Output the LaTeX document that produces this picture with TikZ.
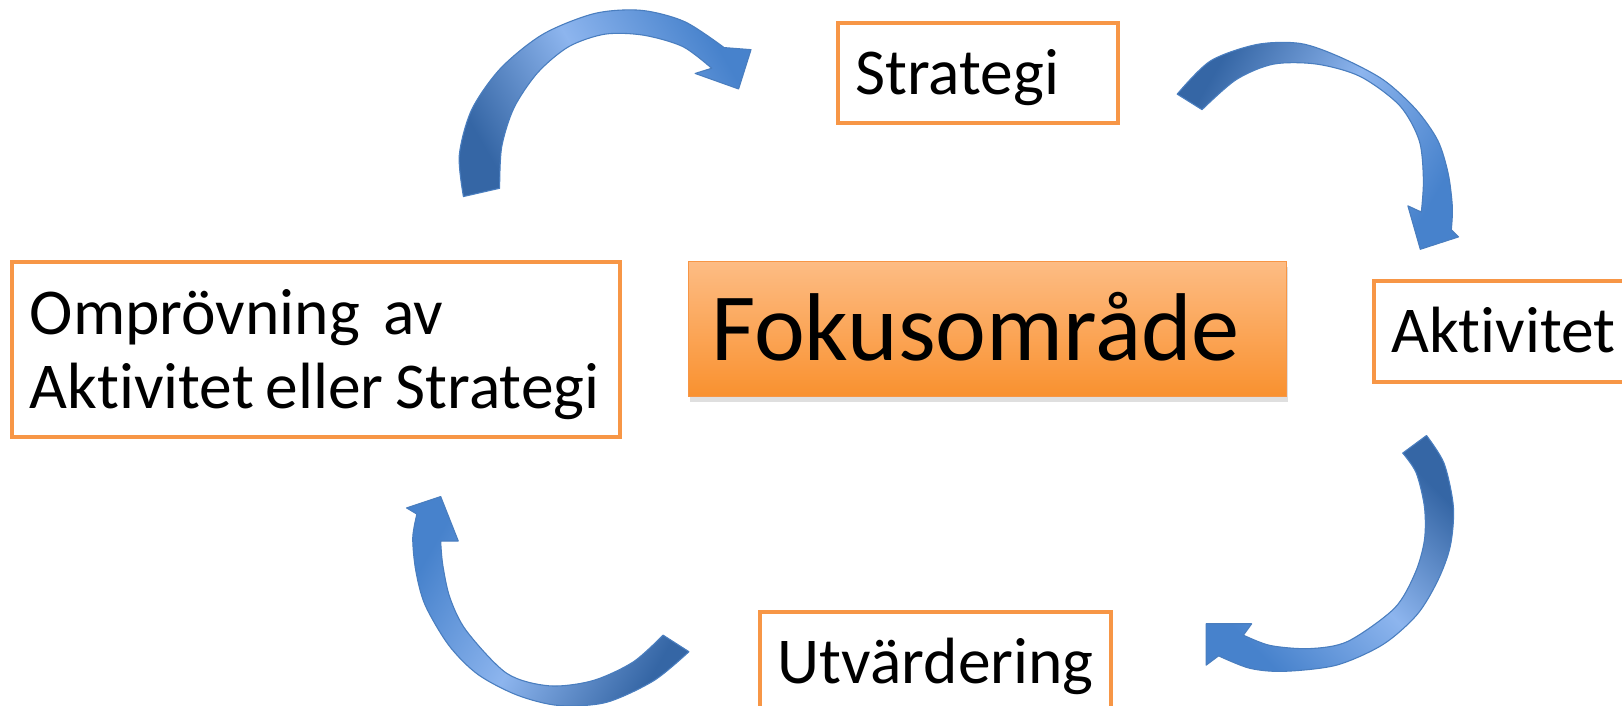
\documentclass[tikz,border=0pt]{standalone}
\usepackage{fontspec}
\setmainfont{Carlito}[Ligatures=CommonOff]
\usepackage{tikz}
\usetikzlibrary{shadows}

\definecolor{boxorange}{HTML}{F79646}
\definecolor{fokustop}{HTML}{FDBC84}
\definecolor{fokusbottom}{HTML}{F9912F}
\definecolor{arrowdark}{HTML}{3566A5}
\definecolor{arrowmid}{HTML}{4782CC}
\definecolor{arrowlight}{HTML}{8DB5EE}
\definecolor{arrowline}{HTML}{4A7EBF}

\newcommand{\wsp}{\hspace{0.18em}}

\begin{document}
\begin{tikzpicture}[
        x=0.02cm, y=-0.02cm,
        stepbox/.style = {
            rectangle, draw=boxorange, line width=2.2pt, fill=white,
            anchor=north west, align=left, inner xsep=0.34cm, inner ysep=0pt,
            font=\fontsize{36}{41}\selectfont, text height=1.07cm, text depth=0.25cm
        },
        bluearrow/.style = {
            draw=arrowline, line width=0.6pt, line join=round,
            left color=arrowdark, right color=arrowmid, middle color=arrowlight,
            shading angle=#1
        }
    ]
    \useasboundingbox (0,0) rectangle (1568,682);
    \clip (0,0) rectangle (1568,682);

    %nodes
    \node [stepbox, text width=4.74cm, minimum height=1.94cm] (strat) at (808,20) {Strategi};
    \node [stepbox, text width=4.52cm, minimum height=1.94cm] (akt) at (1326,270) {Aktivitet};
    \node [stepbox, text width=6.1cm, minimum height=1.94cm] (utv) at (733,590) {Utvärdering};
    \node [stepbox, text width=11.08cm, minimum height=3.4cm, text height=0.55cm, text depth=1.15cm] (ompr) at (10,251) {Omprövning\wsp\wsp av\\\mbox{Aktivitet\wsp eller\wsp Strategi}};
    \node [rectangle, draw=boxorange, line width=0.6pt, top color=fokustop, bottom color=fokusbottom,
        drop shadow={shadow xshift=1pt, shadow yshift=-3pt, opacity=0.25},
        anchor=north west, align=left, inner xsep=0.44cm, inner ysep=0pt, text width=10.68cm, minimum height=2.62cm,
        font=\fontsize{53}{63}\selectfont, text height=1.57cm, text depth=0.35cm] (fokus) at (665,252) {Fokusområde};

    % arrows
    \draw[bluearrow=120] plot[smooth] coordinates {(448,190) (444,150) (456,106) (484,66) (525,33) (575,13) (620,10) (662,21) (700,46)}
        -- (726,48) -- (714,86) -- (672,71)
        -- plot[smooth] coordinates {(688,66) (660,45) (622,34) (585,33) (550,45) (520,70) (497,104) (485,142) (483,182)} -- cycle;
    \draw[bluearrow=60] plot[smooth] coordinates {(1138,91) (1170,59) (1215,43) (1257,42) (1295,55) (1337,77) (1369,106) (1390,136) (1400,168) (1404,200) (1403,222)}
        -- (1410,229) -- (1373,241) -- (1361,199)
        -- plot[smooth] coordinates {(1374,205) (1376,174) (1372,136) (1353,102) (1315,74) (1273,62) (1231,62) (1195,77) (1162,106)} -- cycle;
    \draw[bluearrow=-45] plot[smooth] coordinates {(1379,421) (1396,448) (1405,490) (1402,528) (1390,561) (1370,594) (1337,623) (1292,643) (1241,649) (1208,646) (1178,634)}
        -- (1166,643) -- (1166,603) -- (1210,603)
        -- plot[smooth] coordinates {(1202,614) (1228,624) (1266,627) (1303,620) (1348,588) (1368,554) (1377,522) (1377,490) (1369,457) (1356,438)} -- cycle;
    \draw[bluearrow=-120] plot[smooth] coordinates {(666,630) (632,658) (586,679) (540,682) (500,672) (462,652) (434,624) (411,585) (402,552) (399,520) (403,497)}
        -- (393,491) -- (426,480) -- (443,523)
        -- plot[smooth] coordinates {(426,523) (428,546) (435,578) (451,610) (490,651) (531,663) (573,658) (612,640) (641,614)} -- cycle;

\end{tikzpicture}
\end{document}
